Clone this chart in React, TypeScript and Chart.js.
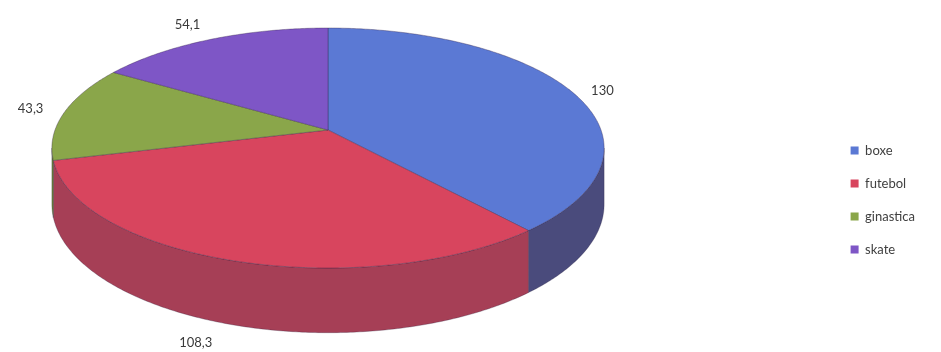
import { useEffect, useRef } from 'react';
import { Chart, registerables } from 'chart.js';

Chart.register(...registerables);

const categories = ['boxe', 'futebol', 'ginastica', 'skate'];
const values = [130, 108.3, 43.3, 54.1];
const topColors = ['#5B79D4', '#D8455E', '#8AA64A', '#7E56C6'];
const sideColors = ['#4A4B7C', '#A63F56', '#6B843A', '#5F3F9E'];

// perspective view of the library's pie (disc tilted towards the viewer)
const VIEW = { cx: 328, cy: 130, ax: 273, by: 117.3, k: 0.15, depth: 55 };
// per-label nudges (Excel's labels were placed by hand)
const LABEL_NUDGE = [[1, 11], [-27, -12], [-2, 1], [-8, 13]];
const LABEL_GAP = 32;

const fmt = (v: number) => String(v).replace('.', ',');

const persp = (v: number) => 1 / (1 - VIEW.k * v);
const project = (u: number, v: number): [number, number] => {
  const s = persp(v);
  return [VIEW.cx + VIEW.ax * u * s, VIEW.cy + VIEW.by * v * s];
};
const rimPoint = (a: number, drop: boolean): [number, number] => {
  const u = Math.cos(a);
  const v = Math.sin(a);
  const [x, y] = project(u, v);
  return [x, y + (drop ? VIEW.depth * persp(v) : 0)];
};
const sample = (a0: number, a1: number) => {
  const n = Math.max(2, Math.ceil(Math.abs(a1 - a0) / 0.01));
  const out: number[] = [];
  for (let i = 0; i <= n; i++) out.push(a0 + ((a1 - a0) * i) / n);
  return out;
};

const pie3d = {
  id: 'pie3d',
  beforeDatasetsDraw(chart: any) {
    const ctx = chart.ctx;
    const arcs = chart.getDatasetMeta(0).data;
    if (!arcs.length) return false;
    const props = arcs.map((arc: any) => arc.getProps(['startAngle', 'endAngle'], true));
    const aR = Math.asin(VIEW.k);
    const aL = Math.PI - Math.asin(VIEW.k);

    ctx.save();
    // side walls (front-facing part only)
    props.forEach((p: any, i: number) => {
      const a0 = Math.max(p.startAngle, aR);
      const a1 = Math.min(p.endAngle, aL);
      if (a1 <= a0) return;
      const angs = sample(a0, a1);
      ctx.beginPath();
      angs.forEach((a, j) => {
        const [x, y] = rimPoint(a, false);
        if (j === 0) ctx.moveTo(x, y);
        else ctx.lineTo(x, y);
      });
      for (let j = angs.length - 1; j >= 0; j--) {
        const [x, y] = rimPoint(angs[j], true);
        ctx.lineTo(x, y);
      }
      ctx.closePath();
      ctx.fillStyle = sideColors[i];
      ctx.fill();
      ctx.strokeStyle = 'rgba(40,30,60,0.35)';
      ctx.lineWidth = 0.8;
      ctx.stroke();
    });

    // top faces
    const [cx, cy] = project(0, 0);
    props.forEach((p: any, i: number) => {
      ctx.beginPath();
      ctx.moveTo(cx, cy);
      sample(p.startAngle, p.endAngle).forEach((a) => {
        const [x, y] = rimPoint(a, false);
        ctx.lineTo(x, y);
      });
      ctx.closePath();
      ctx.fillStyle = topColors[i];
      ctx.fill();
      ctx.strokeStyle = 'rgba(50,35,70,0.45)';
      ctx.lineWidth = 0.8;
      ctx.stroke();
    });

    // value labels
    ctx.font = '13px Lato, "Open Sans", sans-serif';
    ctx.fillStyle = '#3a3a3a';
    ctx.textAlign = 'center';
    ctx.textBaseline = 'middle';
    props.forEach((p: any, i: number) => {
      const mid = (p.startAngle + p.endAngle) / 2;
      const u = Math.cos(mid);
      const v = Math.sin(mid);
      const [ex, ey] = rimPoint(mid, v > 0);
      const x = ex + LABEL_GAP * u + LABEL_NUDGE[i][0];
      const y = ey + LABEL_GAP * v + LABEL_NUDGE[i][1];
      ctx.fillText(fmt(values[i]), x, y);
    });
    ctx.restore();
    return false;
  },
};

export default function App() {
  const ref = useRef<HTMLCanvasElement | null>(null);
  useEffect(() => {
    if (!ref.current) return;
    const chart = new Chart(ref.current, {
      type: 'pie',
      data: {
        labels: categories,
        datasets: [
          {
            data: values,
            backgroundColor: topColors,
            borderWidth: 0,
          },
        ],
      },
      options: {
        animation: false,
        responsive: true,
        maintainAspectRatio: false,
        layout: { padding: { top: 48, right: 16, bottom: 0, left: 0 } },
        plugins: {
          tooltip: { enabled: false },
          legend: {
            position: 'right',
            align: 'center',
            labels: {
              boxWidth: 8,
              boxHeight: 8,
              padding: 20,
              color: '#404040',
              font: { size: 13, family: 'Lato, "Open Sans", sans-serif' },
              generateLabels: () =>
                categories.map((c, i) => ({
                  text: c,
                  fillStyle: topColors[i],
                  strokeStyle: topColors[i],
                  lineWidth: 0,
                  fontColor: '#404040',
                  hidden: false,
                  index: i,
                  datasetIndex: 0,
                })),
            },
          },
        },
      },
      plugins: [pie3d],
    });
    return () => chart.destroy();
  }, []);
  return (
    <div style={{ position: 'fixed', left: 0, top: 0, width: 941, height: 352, background: '#fff' }}>
      <canvas ref={ref} />
    </div>
  );
}
